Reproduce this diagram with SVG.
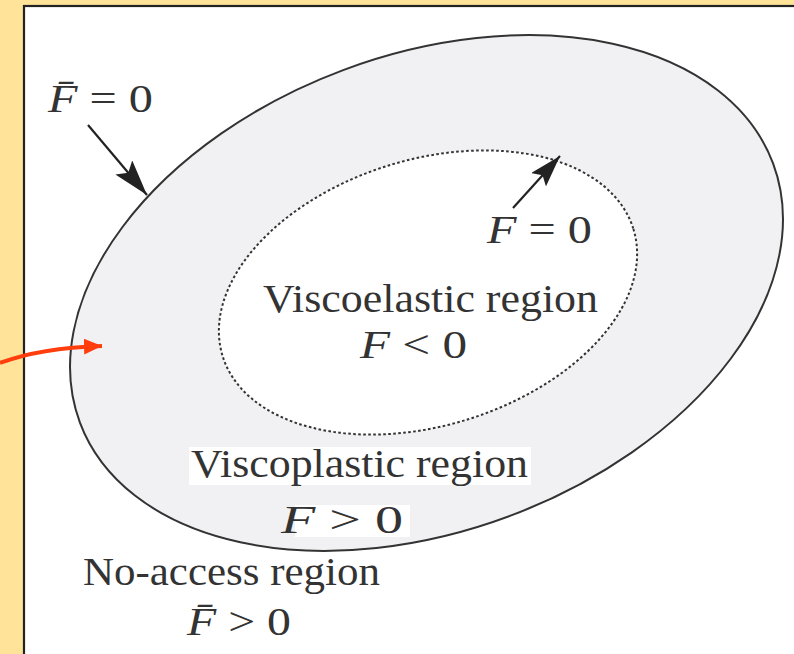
<svg xmlns="http://www.w3.org/2000/svg" width="794" height="654" viewBox="0 0 794 654">
<style>
  .t { font-family: "Liberation Serif", "Times New Roman", serif; font-size: 41px; fill: #333; }
  .m { font-style: italic; }
</style>
<defs>
  <marker id="ah" viewBox="0 0 36 22" refX="36" refY="11" markerWidth="36" markerHeight="22" markerUnits="userSpaceOnUse" orient="auto">
    <path d="M0,0 L36,11 L0,22 L7,11 Z" fill="#222"/>
  </marker>
  <marker id="ah2" viewBox="0 0 32 20" refX="32" refY="10" markerWidth="32" markerHeight="20" markerUnits="userSpaceOnUse" orient="auto">
    <path d="M0,0 L32,10 L0,20 L6,10 Z" fill="#222"/>
  </marker>
  <marker id="ahr" viewBox="0 0 18 16" refX="18" refY="8" markerWidth="18" markerHeight="16" markerUnits="userSpaceOnUse" orient="auto">
    <path d="M0,0 L18,8 L0,16 Z" fill="#FF3D0D"/>
  </marker>
</defs>
<rect x="0" y="0" width="794" height="654" fill="#FEE399"/>
<rect x="24" y="6" width="800" height="700" fill="#FFFFFF" stroke="#222" stroke-width="2.2"/>

<g id="outer-surface">
  <ellipse cx="426.5" cy="293" rx="370" ry="238" transform="rotate(-20.5 426.5 293)" fill="#F1F1F4" stroke="#333" stroke-width="2"/>
</g>
<g id="inner-surface">
  <ellipse cx="428" cy="292.5" rx="215" ry="133" transform="rotate(-17.2 428 292.5)" fill="#FFFFFF" stroke="#333" stroke-width="2" stroke-dasharray="2.6 2.4"/>
</g>

<g id="label-fbar0">
  <text class="t" x="48" y="112" textLength="105" lengthAdjust="spacingAndGlyphs"><tspan class="m">F̄</tspan> = 0</text>
</g>
<g id="label-f0">
  <text class="t" x="487" y="243" textLength="105" lengthAdjust="spacingAndGlyphs"><tspan class="m">F</tspan> = 0</text>
</g>
<g id="viscoelastic">
  <text class="t" x="263" y="312" textLength="335" lengthAdjust="spacingAndGlyphs">Viscoelastic region</text>
  <text class="t" x="360" y="358" textLength="107" lengthAdjust="spacingAndGlyphs"><tspan class="m">F</tspan> &lt; 0</text>
</g>
<g id="viscoplastic">
  <rect x="189" y="447" width="342" height="38" fill="#FFFFFF"/>
  <rect x="295" y="505" width="115" height="32" fill="#FFFFFF"/>
  <text class="t" x="191" y="477" textLength="337" lengthAdjust="spacingAndGlyphs">Viscoplastic region</text>
  <text class="t" x="281" y="533" textLength="122" lengthAdjust="spacingAndGlyphs"><tspan class="m">F</tspan> &gt; 0</text>
</g>
<g id="no-access">
  <text class="t" x="83" y="585" textLength="297" lengthAdjust="spacingAndGlyphs">No-access region</text>
  <text class="t" x="187" y="635" textLength="104" lengthAdjust="spacingAndGlyphs"><tspan class="m">F̄</tspan> &gt; 0</text>
</g>

<g id="connectors">
  <line x1="88" y1="125" x2="147" y2="195" stroke="#222" stroke-width="2.2" marker-end="url(#ah)"/>
  <line x1="513" y1="208" x2="560" y2="156" stroke="#222" stroke-width="2.2" marker-end="url(#ah2)"/>
  <path d="M0,363 Q40,348 102,346" fill="none" stroke="#FF3D0D" stroke-width="4" marker-end="url(#ahr)"/>
</g>
</svg>
